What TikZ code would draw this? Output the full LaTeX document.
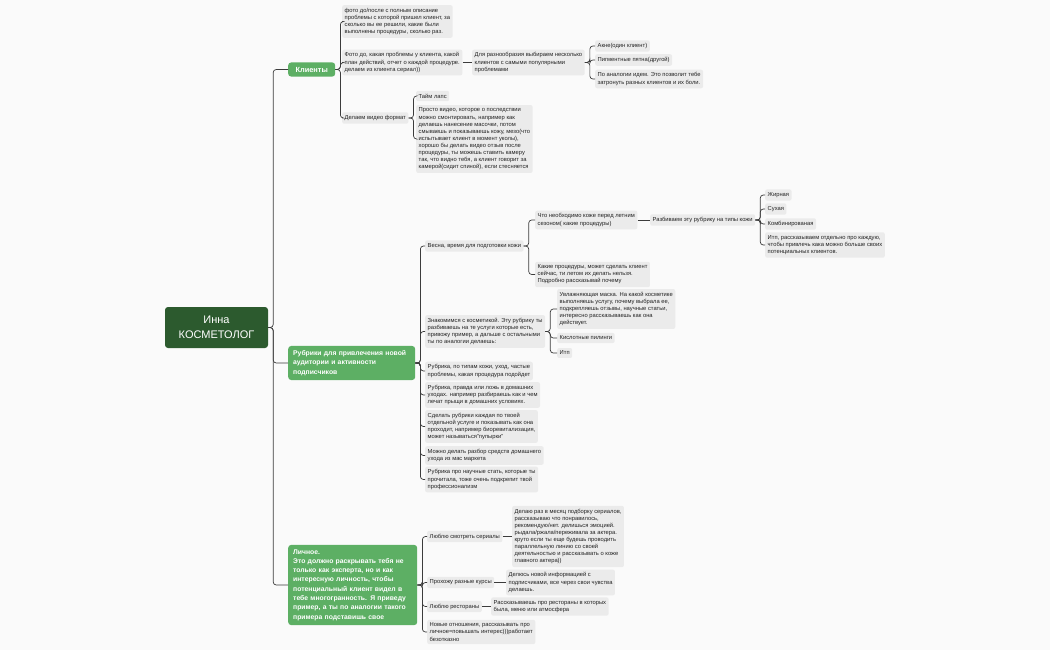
\documentclass[tikz,border=0pt]{standalone}
\usepackage{fontspec}
\setmainfont{Liberation Sans}
\usepackage{tikz}
\usetikzlibrary{positioning}
\definecolor{pagebg}{HTML}{FAFAFA}
\definecolor{rootgreen}{HTML}{2C5A2E}
\definecolor{maingreen}{HTML}{5DAF64}
\definecolor{leafgray}{HTML}{EBEBEB}
\definecolor{leaftext}{HTML}{222222}
\definecolor{linkgray}{HTML}{3C3C3C}

\tikzset{
  rootbox/.style={rectangle, rounded corners=3pt, fill=rootgreen, text=white,
    font=\fontsize{11}{14.5}\selectfont, align=center,
    minimum width=103pt, minimum height=41pt},
  mainbox/.style={rectangle, rounded corners=3pt, fill=maingreen, text=white,
    font=\fontsize{6.8}{9.3}\selectfont\bfseries, align=left,
    inner xsep=5pt, inner ysep=4.5pt, anchor=west},
  leafbox/.style={rectangle, rounded corners=2pt, fill=leafgray, text=leaftext,
    font=\fontsize{5.8}{7.1}\selectfont, align=left,
    inner xsep=2.5pt, inner ysep=3pt, anchor=west},
  linkline/.style={draw=linkgray, line width=0.7pt, rounded corners=3pt}
}

\begin{document}
\begin{tikzpicture}[x=1pt, y=-1pt]
\fill[pagebg] (0,0) rectangle (1050,650);
\useasboundingbox (0,0) rectangle (1050,650);

% root
\node[rootbox] (root) at (216.5,327.5) {Инна\\КОСМЕТОЛОГ};

% main branches
\node[mainbox, minimum width=47pt, align=center, font=\fontsize{7.4}{9.3}\selectfont\bfseries] (clients) at (288,69.5) {Клиенты};
\node[mainbox, text width=117pt] (rubrics) at (288,363) {Рубрики для привлечения новой\\аудитории и активности\\подписчиков};
\node[mainbox, text width=119pt] (personal) at (288,585) {Личное.\\Это должно раскрывать тебя не\\только как эксперта, но и как\\интересную личность, чтобы\\потенциальный клиент видел в\\тебе многогранность. Я приведу\\пример, а ты по аналогии такого\\примера подставишь свое};

% clients
\node[leafbox] (c1) at (342,21.5) {фото до/после с полным описание\\проблемы с которой пришел клиент, за\\сколько вы ее решили, какие были\\выполнены процедуры, сколько раз.};
\node[leafbox] (c2) at (342,62.5) {Фото до, какая проблемы у клиента, какой\\план действий, отчет о каждой процедуре.\\делаем из клиента сериал))};
\node[leafbox] (c3) at (342,118) {Делаем видео формат};
\node[leafbox] (c2a) at (472,62.5) {Для разнообразия выбираем несколько\\клиентов с самыми популярными\\проблемами};
\node[leafbox] (c2a1) at (595,46) {Акне(один клиент)};
\node[leafbox] (c2a2) at (595,60) {Пигментные пятна(другой)};
\node[leafbox] (c2a3) at (595,79) {По аналогии идем. Это позволит тебе\\затронуть разных клиентов и их боли.};
\node[leafbox] (c3a) at (416,96) {Тайм лапс};
\node[leafbox] (c3b) at (416,139) {Просто видео, которое о последствии\\можно смонтировать, например как\\делаешь нанесение масочки, потом\\смываешь и показываешь кожу, мезо(что\\испытывает клиент в момент уколы),\\хорошо бы делать видео отзыв после\\процедуры, ты можешь ставить камеру\\так, что видно тебя, а клиент говорит за\\камерой(сидит спиной), если стесняется};

% rubrics
\node[leafbox] (r1) at (425,246) {Весна, время для подготовки кожи};
\node[leafbox] (r1a) at (535,220) {Что необходимо коже перед летним\\сезоном( какие процедуры)};
\node[leafbox] (r1a1) at (650,220) {Разбиваем эту рубрику на типы кожи};
\node[leafbox] (r1a1a) at (765,195) {Жирная};
\node[leafbox] (r1a1b) at (765,209) {Сухая};
\node[leafbox] (r1a1c) at (765,224) {Комбинированая};
\node[leafbox] (r1a1d) at (765,245) {Итп, рассказываем отдельно про каждую,\\чтобы привлечь кака можно больше своих\\потенциальных клиентов.};
\node[leafbox] (r1b) at (535,274.5) {Какие процедуры, может сделать клиент\\сейчас, ти летом их делать нельзя.\\Подробно рассказывай почему};
\node[leafbox] (r2) at (425,331.5) {Знакомимся с косметикой. Эту рубрику ты\\разбиваешь на те услуги которые есть,\\привожу пример, а дальше с остальными\\ты по аналогии делаешь:};
\node[leafbox] (r2a) at (557,309) {Увлажняющая маска. На какой косметике\\выполняешь услугу, почему выбрала ее,\\подкрепляешь отзывы, научные статьи,\\интересно рассказываешь как она\\действует.};
\node[leafbox] (r2b) at (557,338) {Кислотные пилинги};
\node[leafbox] (r2c) at (557,353) {Итп};
\node[leafbox] (r3) at (425,371) {Рубрика, по типам кожи, уход, частые\\проблемы, какая процедура подойдет};
\node[leafbox] (r4) at (425,395) {Рубрика, правда или ложь в домашних\\уходах. например разбираешь как и чем\\лечат прыщи в домашних условиях.};
\node[leafbox] (r5) at (425,426.5) {Сделать рубрики каждая по твоей\\отдельной услуге и показывать как она\\проходит, например биоревитализация,\\может называться"пупырки"};
\node[leafbox] (r6) at (425,455.5) {Можно делать разбор средств домашнего\\ухода из мас маркета};
\node[leafbox] (r7) at (425,479.5) {Рубрика про научные стать, которые ты\\прочитала, тоже очень подкрепит твой\\профессионализм};

% personal
\node[leafbox] (p1) at (427,536.5) {Люблю смотреть сериалы};
\node[leafbox] (p1a) at (512,536.5) {Делаю раз в месяц подборку сериалов,\\рассказываю что понравилось,\\рекомендую/нет. делишься эмоцией.\\рыдала/ржала/переживала за актера.\\круто если ты еще будешь проводить\\параллельную линию со своей\\деятельностью и рассказывать о коже\\главного актера))};
\node[leafbox] (p2) at (427,582.5) {Прохожу разные курсы};
\node[leafbox] (p2a) at (506,582.5) {Делюсь новой информацией с\\подписчиками, все через свои чувства\\делаешь.};
\node[leafbox] (p3) at (427,606.5) {Люблю рестораны};
\node[leafbox] (p3a) at (491,606.5) {Рассказываешь про рестораны в которых\\была, меню или атмосфера};
\node[leafbox] (p4) at (427,632) {Новые отношения, рассказывать про\\личное=повышать интерес)))работает\\безотказно};

% connectors with a spine
\foreach \pa/\ch in {root/clients, root/rubrics, root/personal,
    clients/c1, clients/c2, clients/c3, c2a/c2a1, c2a/c2a2, c2a/c2a3,
    c3/c3a, c3/c3b,
    rubrics/r1, rubrics/r2, rubrics/r3, rubrics/r4, rubrics/r5, rubrics/r6, rubrics/r7,
    r1/r1a, r1/r1b, r1a1/r1a1a, r1a1/r1a1b, r1a1/r1a1c, r1a1/r1a1d,
    r2/r2a, r2/r2b, r2/r2c,
    personal/p1, personal/p2, personal/p3, personal/p4}
  \draw[linkline] (\pa.east) -- ++(5,0) |- (\ch.west);

% single children, straight
\foreach \pa/\ch in {c2/c2a, r1a/r1a1, p1/p1a, p2/p2a, p3/p3a}
  \draw[linkline] (\pa.east) -- (\ch.west);
\end{tikzpicture}
\end{document}
